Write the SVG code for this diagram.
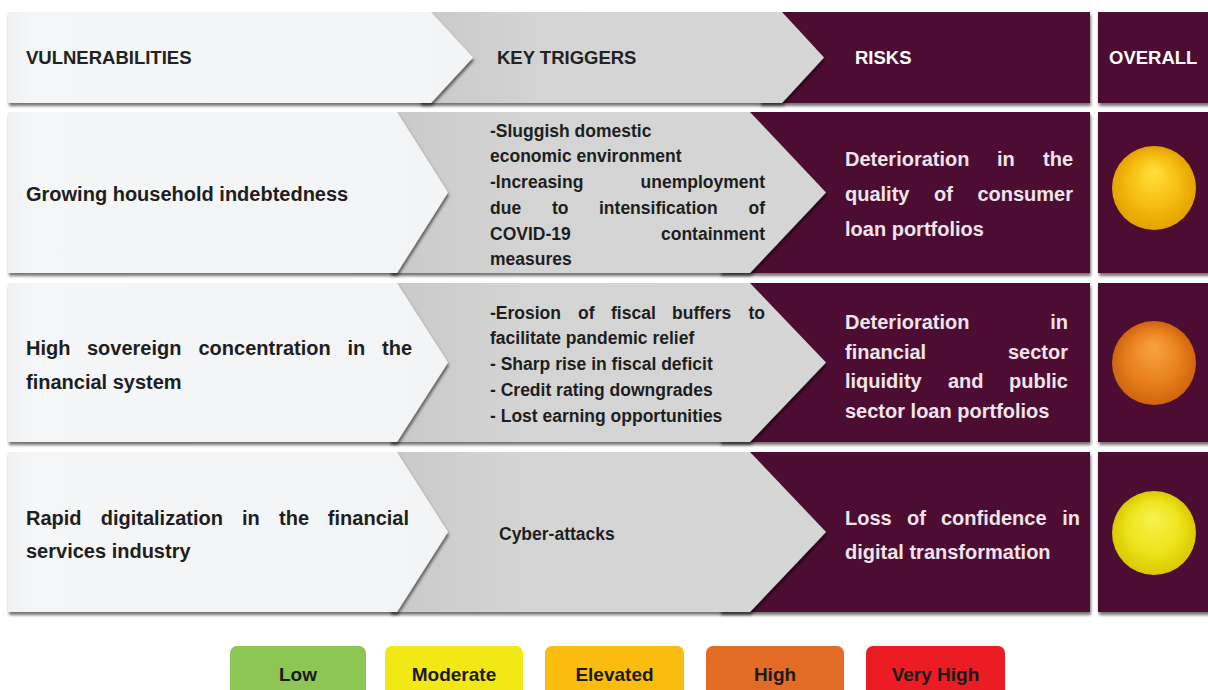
<svg xmlns="http://www.w3.org/2000/svg" width="1208" height="690" viewBox="0 0 1208 690">
<defs>
<style>
text{font-family:"Liberation Sans",Arial,sans-serif;font-weight:bold}
.hd{font-size:18.5px;fill:#222}
.hdw{font-size:18.5px;fill:#ffffff}
.vl{font-size:20px;fill:#1e1e1e}
.tr{font-size:17.5px;fill:#1e1e1e}
.rk{font-size:20px;fill:#efe5ea}
.lg{font-size:19px;fill:#1a1a1a;text-anchor:middle}
.e{text-anchor:end}
.wh{fill:url(#gw)}
.gr{fill:url(#gg)}
.pu{fill:#4d1133}
.sh{filter:url(#sh)}
</style>
<filter id="sh" x="-5%" y="-10%" width="112%" height="130%">
<feDropShadow dx="1" dy="3" stdDeviation="1.8" flood-color="#000" flood-opacity="0.55"/>
</filter>
<linearGradient id="gw" x1="0" y1="0" x2="1" y2="0">
<stop offset="0" stop-color="#eef0f1"/><stop offset="0.05" stop-color="#f5f6f7"/><stop offset="1" stop-color="#f3f4f5"/>
</linearGradient>
<linearGradient id="gg" x1="0" y1="0" x2="1" y2="0">
<stop offset="0" stop-color="#c9c9c9"/><stop offset="0.3" stop-color="#d4d4d4"/><stop offset="1" stop-color="#d6d6d6"/>
</linearGradient>
<radialGradient id="c1" cx="0.5" cy="0.5" r="0.5" fx="0.5" fy="0.3">
<stop offset="0" stop-color="#ffe23c"/><stop offset="0.6" stop-color="#f6bd12"/><stop offset="1" stop-color="#e3a200"/>
</radialGradient>
<radialGradient id="c2" cx="0.5" cy="0.5" r="0.5" fx="0.5" fy="0.3">
<stop offset="0" stop-color="#f8a444"/><stop offset="0.6" stop-color="#e9821f"/><stop offset="1" stop-color="#cf640e"/>
</radialGradient>
<radialGradient id="c3" cx="0.5" cy="0.5" r="0.5" fx="0.5" fy="0.3">
<stop offset="0" stop-color="#f7f250"/><stop offset="0.6" stop-color="#efe51c"/><stop offset="1" stop-color="#d9c900"/>
</radialGradient>
</defs>
<rect width="1208" height="690" fill="#ffffff"/>

<!-- Header row -->
<g id="header">
<rect class="pu sh" x="760" y="12" width="330" height="91"/>
<polygon class="gr sh" points="420,12 782,12 824,57.5 782,103 420,103"/>
<polygon class="wh sh" points="8,12 431,12 473,57.5 431,103 8,103"/>
<rect class="pu sh" x="1098" y="12" width="112" height="91"/>
<text class="hd" x="26" y="64">VULNERABILITIES</text>
<text class="hd" x="497" y="64">KEY TRIGGERS</text>
<text class="hdw" x="855" y="64">RISKS</text>
<text class="hdw" x="1109" y="64">OVERALL</text>
</g>

<!-- Row 1 -->
<g id="row1">
<rect class="pu sh" x="720" y="112" width="370" height="161"/>
<polygon class="gr sh" points="390,112 750,112 826,192.5 750,273 390,273"/>
<polygon class="wh sh" points="8,112 397,112 448,192.5 397,273 8,273"/>
<rect class="pu sh" x="1098" y="112" width="112" height="161"/>
<text class="vl" x="26" y="201">Growing household indebtedness</text>
<text class="tr" y="137"><tspan x="490">-Sluggish domestic</tspan></text>
<text class="tr" y="162"><tspan x="490">economic environment</tspan></text>
<text class="tr" y="188"><tspan x="490">-Increasing</tspan></text>
<text class="tr e" x="765" y="188">unemployment</text>
<text class="tr" y="214"><tspan x="490">due</tspan><tspan x="552">to</tspan><tspan x="599">intensification</tspan></text>
<text class="tr e" x="765" y="214">of</text>
<text class="tr" x="490" y="240">COVID-19</text>
<text class="tr e" x="765" y="240">containment</text>
<text class="tr" x="490" y="265">measures</text>
<text class="rk" y="166"><tspan x="845">Deterioration</tspan><tspan x="997">in</tspan></text>
<text class="rk e" x="1073" y="166">the</text>
<text class="rk" y="201"><tspan x="845">quality</tspan><tspan x="934">of</tspan></text>
<text class="rk e" x="1073" y="201">consumer</text>
<text class="rk" x="845" y="236">loan portfolios</text>
<circle cx="1154" cy="188" r="42" fill="url(#c1)"/>
</g>

<!-- Row 2 -->
<g id="row2">
<rect class="pu sh" x="720" y="283" width="370" height="159"/>
<polygon class="gr sh" points="390,283 750,283 826,362.5 750,442 390,442"/>
<polygon class="wh sh" points="8,283 397,283 448,362.5 397,442 8,442"/>
<rect class="pu sh" x="1098" y="283" width="112" height="159"/>
<text class="vl" y="355"><tspan x="26">High</tspan><tspan x="87">sovereign</tspan><tspan x="198.5">concentration</tspan><tspan x="347.5">in</tspan></text>
<text class="vl e" x="412" y="355">the</text>
<text class="vl" x="26" y="389">financial system</text>
<text class="tr" y="319"><tspan x="490">-Erosion</tspan><tspan x="578">of</tspan><tspan x="611">fiscal</tspan><tspan x="672">buffers</tspan></text>
<text class="tr e" x="765" y="319">to</text>
<text class="tr" x="490" y="344">facilitate pandemic relief</text>
<text class="tr" x="490" y="370">- Sharp rise in fiscal deficit</text>
<text class="tr" x="490" y="396">- Credit rating downgrades</text>
<text class="tr" x="490" y="422">- Lost earning opportunities</text>
<text class="rk" x="845" y="329">Deterioration</text>
<text class="rk e" x="1068" y="329">in</text>
<text class="rk" x="845" y="359">financial</text>
<text class="rk e" x="1068" y="359">sector</text>
<text class="rk" y="388"><tspan x="845">liquidity</tspan><tspan x="948">and</tspan></text>
<text class="rk e" x="1068" y="388">public</text>
<text class="rk" x="845" y="418">sector loan portfolios</text>
<circle cx="1154" cy="363" r="42" fill="url(#c2)"/>
</g>

<!-- Row 3 -->
<g id="row3">
<rect class="pu sh" x="720" y="452" width="370" height="160"/>
<polygon class="gr sh" points="390,452 750,452 826,532 750,612 390,612"/>
<polygon class="wh sh" points="8,452 397,452 448,532 397,612 8,612"/>
<rect class="pu sh" x="1098" y="452" width="112" height="160"/>
<text class="vl" y="525"><tspan x="26">Rapid</tspan><tspan x="100.7">digitalization</tspan><tspan x="242">in</tspan><tspan x="279">the</tspan></text>
<text class="vl e" x="409" y="525">financial</text>
<text class="vl" x="26" y="558">services industry</text>
<text class="tr" x="499" y="540">Cyber-attacks</text>
<text class="rk" y="525"><tspan x="845">Loss</tspan><tspan x="907">of</tspan><tspan x="941">confidence</tspan></text>
<text class="rk e" x="1080" y="525">in</text>
<text class="rk" x="845" y="559">digital transformation</text>
<circle cx="1154" cy="533" r="42" fill="url(#c3)"/>
</g>

<!-- Legend -->
<g id="legend-low"><rect x="230" y="646" width="136" height="60" rx="7" fill="#8dc653"/><text class="lg" x="298" y="681">Low</text></g>
<g id="legend-moderate"><rect x="385" y="646" width="138" height="60" rx="7" fill="#f2e816"/><text class="lg" x="454" y="681">Moderate</text></g>
<g id="legend-elevated"><rect x="545" y="646" width="139" height="60" rx="7" fill="#fbbc10"/><text class="lg" x="614.5" y="681">Elevated</text></g>
<g id="legend-high"><rect x="706" y="646" width="138" height="60" rx="7" fill="#e36c24"/><text class="lg" x="775" y="681">High</text></g>
<g id="legend-veryhigh"><rect x="866" y="646" width="139" height="60" rx="7" fill="#ec1c24"/><text class="lg" x="935.5" y="681">Very High</text></g>
</svg>
